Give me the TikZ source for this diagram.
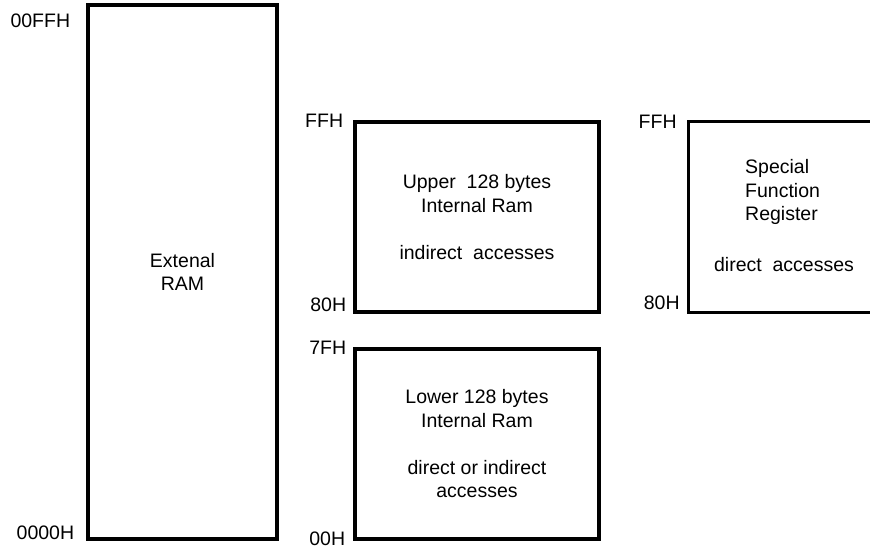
\documentclass[tikz,border=0pt]{standalone}
\usepackage{fontspec}
\setmainfont{Liberation Sans}
\usetikzlibrary{positioning}

\tikzstyle{mem} = [draw, line width=3.3pt, inner sep=0pt, align=center, font=\fontsize{19.5}{23.5}\selectfont]
\tikzstyle{openbox} = [inner sep=0pt, minimum width=211pt, minimum height=190pt]
\tikzstyle{addr} = [inner sep=0pt, font=\fontsize{19.5}{23.5}\selectfont]
\tikzstyle{txt} = [inner sep=0pt, font=\fontsize{19.5}{23.5}\selectfont]

\begin{document}
\begin{tikzpicture}[x=1pt, y=-1pt]
\clip (0,0) rectangle (870,548);

\node[mem, minimum width=189pt, minimum height=534pt] (ext) at (182.5,272) {Extenal\\RAM};
\node[mem, minimum width=244pt, minimum height=190pt] (upper) at (477,217)
    {Upper\ \ 128 bytes\\Internal Ram\\[23.5pt]indirect\ \ accesses};
\node[mem, minimum width=244pt, minimum height=190pt] (lower) at (477,444)
    {Lower 128 bytes\\Internal Ram\\[23.5pt]direct or indirect\\accesses};
\node[openbox] (sfr) at (794.5,217) {};
\draw[line width=3.3pt] (sfr.north east) -- (sfr.north west) -- (sfr.south west) -- (sfr.south east);
\node[txt, align=left, anchor=west] (sfrname) at (745,192) {Special\\Function\\Register};
\node[txt] (sfracc) at (784,265) {direct\ \ accesses};

\node[addr, left=16pt of ext.north west, yshift=-17pt] (a00ff) {00FFH};
\node[addr, left=12pt of ext.south west, yshift=8pt] (a0000) {0000H};
\node[addr, left=10pt of upper.north west] (aupff) {FFH};
\node[addr, left=7pt of upper.south west, yshift=9pt] (aup80) {80H};
\node[addr, left=7pt of lower.north west] (alo7f) {7FH};
\node[addr, left=8pt of lower.south west, yshift=2pt] (alo00) {00H};
\node[addr, left=12pt of sfr.north west] (asfff) {FFH};
\node[addr, left=9pt of sfr.south west, yshift=9pt] (asf80) {80H};
\end{tikzpicture}
\end{document}
